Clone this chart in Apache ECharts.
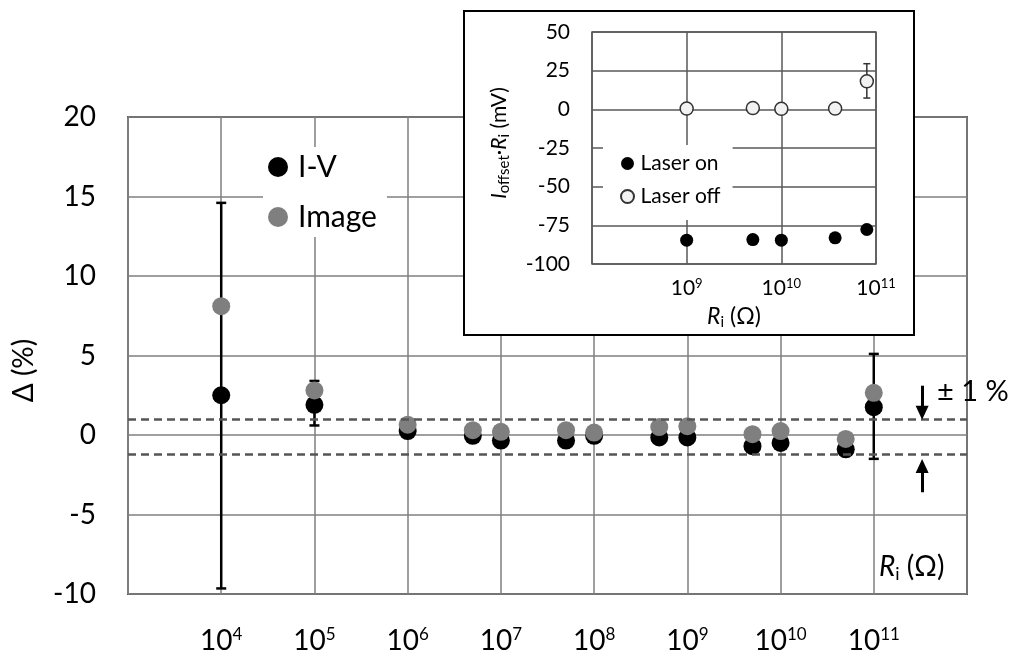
<!DOCTYPE html>
<html>
<head>
<meta charset="utf-8">
<script src="https://cdn.jsdelivr.net/npm/echarts@6/dist/echarts.min.js"></script>
<style>html,body{margin:0;padding:0;background:#fff}#c{width:1011px;height:655px}</style>
</head>
<body>
<div id="c"></div>
<script>
// ---- main chart data ----
const resistances = [1e4, 1e5, 1e6, 5e6, 1e7, 5e7, 1e8, 5e8, 1e9, 5e9, 1e10, 5e10, 1e11];
const ivDelta     = [2.5, 1.9, 0.25, -0.05, -0.35, -0.35, -0.05, -0.15, -0.15, -0.7, -0.5, -0.9, 1.75];
const imageDelta  = [8.1, 2.8, 0.65, 0.3, 0.2, 0.3, 0.15, 0.5, 0.55, 0.05, 0.25, -0.25, 2.65];
const ivErrR    = [1e4, 1e5, 1e11];
const ivErrLow  = [-9.65, 0.6, -1.5];
const ivErrHigh = [14.6, 3.4, 5.1];
const toleranceLines = [1, -1.2];
const yTicks = [-10, -5, 0, 5, 10, 15, 20];
const xExponents = [4, 5, 6, 7, 8, 9, 10, 11];

// ---- inset data ----
const insetR        = [1e9, 5e9, 1e10, 3.7e10, 8e10];
const laserOn       = [-84.6, -84.2, -84.6, -83.1, -77.7];
const laserOff      = [0.5, 0.8, 0.3, 0.5, 18.1];
const laserOffErrR    = [8e10];
const laserOffErrLow  = [7.3];
const laserOffErrHigh = [29.5];
const insetYTicks = [-100, -75, -50, -25, 0, 25, 50];
const insetExponents = [9, 10, 11];

const FONT = 'Lato, "Open Sans", sans-serif';
const zip = (a, b) => a.map((v, i) => [v, b[i]]);

function errorBarSeries(name, xi, yi, R, lo, hi, color, lw, cap, z) {
  return {
    name: name, type: 'custom', xAxisIndex: xi, yAxisIndex: yi, z: z, silent: true,
    data: R.map((r, i) => [r, lo[i], hi[i]]),
    renderItem: function (params, api) {
      const p1 = api.coord([api.value(0), api.value(1)]);
      const p2 = api.coord([api.value(0), api.value(2)]);
      const st = { stroke: color, lineWidth: lw };
      return { type: 'group', children: [
        { type: 'line', shape: { x1: p1[0], y1: p1[1], x2: p2[0], y2: p2[1] }, style: st },
        { type: 'line', shape: { x1: p1[0] - cap, y1: p1[1], x2: p1[0] + cap, y2: p1[1] }, style: st },
        { type: 'line', shape: { x1: p2[0] - cap, y1: p2[1], x2: p2[0] + cap, y2: p2[1] }, style: st }
      ]};
    }
  };
}

const chart = echarts.init(document.getElementById('c'), null, { renderer: 'canvas' });

const option = {
  backgroundColor: '#fff',
  animation: false,
  textStyle: { fontFamily: FONT },
  grid: [
    { left: 128, top: 117, right: 44, bottom: 57, show: true, borderColor: '#595959', borderWidth: 2, z: 0 },
    { left: 592, top: 32, width: 284, height: 232, show: true, borderColor: '#595959', borderWidth: 1.5, z: 6 }
  ],
  xAxis: [
    {
      type: 'log', logBase: 10, min: 1e3, max: 1e12, splitNumber: 9, gridIndex: 0,
      axisLine: { show: false }, axisTick: { show: false },
      splitLine: { show: true, lineStyle: { color: '#7f7f7f', width: 1.5 } },
      axisLabel: {
        margin: 31, color: '#000',
        formatter: function (v) {
          const e = Math.round(Math.log10(v));
          if (xExponents.indexOf(e) < 0) return '';
          return '{b|10}{s|' + e + '}';
        },
        rich: {
          b: { fontSize: 28, lineHeight: 32, fontFamily: FONT, color: '#000' },
          s: { fontSize: 17, lineHeight: 32, verticalAlign: 'top', fontFamily: FONT, color: '#000', padding: [1, 0, 0, 0] }
        }
      }
    },
    {
      type: 'log', logBase: 10, min: 1e8, max: 1e11, splitNumber: 3, gridIndex: 1, z: 6,
      axisLine: { show: false }, axisTick: { show: false },
      splitLine: { show: true, lineStyle: { color: '#595959', width: 1.5 } },
      name: '{i|R}{sub|i}{n| (\u03A9)}', nameLocation: 'middle', nameGap: 40,
      nameTextStyle: {
        rich: {
          i: { fontSize: 23, fontStyle: 'italic', lineHeight: 26, fontFamily: FONT, color: '#000' },
          sub: { fontSize: 15, lineHeight: 26, verticalAlign: 'bottom', fontFamily: FONT, color: '#000' },
          n: { fontSize: 23, lineHeight: 26, fontFamily: FONT, color: '#000' }
        }
      },
      axisLabel: {
        margin: 12, color: '#000',
        formatter: function (v) {
          const e = Math.round(Math.log10(v));
          if (insetExponents.indexOf(e) < 0) return '';
          return '{b|10}{s|' + e + '}';
        },
        rich: {
          b: { fontSize: 21, lineHeight: 24, fontFamily: FONT, color: '#000' },
          s: { fontSize: 13, lineHeight: 24, verticalAlign: 'top', fontFamily: FONT, color: '#000', padding: [1, 0, 0, 0] }
        }
      }
    }
  ],
  yAxis: [
    {
      type: 'value', min: yTicks[0], max: yTicks[yTicks.length - 1], interval: 5, gridIndex: 0,
      axisLine: { show: false }, axisTick: { show: false },
      splitLine: { show: true, lineStyle: { color: '#7f7f7f', width: 1.5 } },
      axisLabel: { fontSize: 28, margin: 32, color: '#000', fontFamily: FONT },
      name: '\u0394 (%)', nameLocation: 'middle', nameGap: 90, nameRotate: 90,
      nameTextStyle: { fontSize: 28, color: '#000', fontFamily: FONT, padding: [0, 30, 0, 0] }
    },
    {
      type: 'value', min: insetYTicks[0], max: insetYTicks[insetYTicks.length - 1], interval: 25, gridIndex: 1, z: 6,
      axisLine: { show: false }, axisTick: { show: false },
      splitLine: { show: true, lineStyle: { color: '#595959', width: 1.5 } },
      axisLabel: { fontSize: 21, margin: 22, color: '#000', fontFamily: FONT },
      name: '{i|I}{sub|offset}{n|\u00B7}{i|R}{sub|i}{n| (mV)}', nameLocation: 'middle', nameGap: 80, nameRotate: 90,
      nameTextStyle: {
        padding: [0, 0, 0, 10],
        rich: {
          i: { fontSize: 21, fontStyle: 'italic', lineHeight: 25, fontFamily: FONT, color: '#000' },
          sub: { fontSize: 15, lineHeight: 25, verticalAlign: 'bottom', fontFamily: FONT, color: '#000' },
          n: { fontSize: 21, lineHeight: 25, fontFamily: FONT, color: '#000' }
        }
      }
    }
  ],
  legend: [
    {
      data: ['I-V', 'Image'], orient: 'vertical', left: 263, top: 147, padding: [5, 10, 5, 5],
      backgroundColor: '#fff', itemWidth: 30, itemHeight: 20, itemGap: 20, icon: 'circle', z: 4,
      textStyle: { fontSize: 30, color: '#000', fontFamily: FONT }
    },
    {
      data: ['Laser on', 'Laser off'], orient: 'vertical', left: 603, top: 145, padding: [8, 12, 13, 17],
      backgroundColor: '#fff', itemWidth: 16, itemHeight: 13, itemGap: 12, z: 9,
      textStyle: { fontSize: 21, color: '#000', fontFamily: FONT }
    }
  ],
  graphic: [
    { type: 'rect', z: 5, silent: true, shape: { x: 464, y: 11, width: 450, height: 324 },
      style: { fill: '#fff', stroke: '#000', lineWidth: 2 } },
    { type: 'text', z: 3, silent: true, left: 937, top: 377,
      style: { text: '\u00B1 1 %', font: '29px ' + FONT, fill: '#000' } },
    { type: 'text', z: 3, silent: true, left: 879, top: 553,
      style: {
        text: '{i|R}{sub|i}{n| (\u03A9)}',
        rich: {
          i: { fontSize: 28, fontStyle: 'italic', lineHeight: 32, fontFamily: FONT, fill: '#000' },
          sub: { fontSize: 18, lineHeight: 32, verticalAlign: 'bottom', fontFamily: FONT, fill: '#000' },
          n: { fontSize: 28, lineHeight: 32, fontFamily: FONT, fill: '#000' }
        }
      } }
  ],
  series: [
    errorBarSeries('ivErr', 0, 0, ivErrR, ivErrLow, ivErrHigh, '#000', 2.5, 5, 2),
    {
      name: 'I-V', type: 'scatter', xAxisIndex: 0, yAxisIndex: 0, z: 3,
      symbolSize: 18, itemStyle: { color: '#000', opacity: 1 },
      data: zip(resistances, ivDelta),
      markLine: {
        silent: true, symbol: ['none', 'none'], animation: false,
        label: { show: false },
        lineStyle: { type: [8, 5], color: '#555', width: 2.5 },
        data: toleranceLines.map(v => ({ yAxis: v }))
      }
    },
    {
      name: 'Image', type: 'scatter', xAxisIndex: 0, yAxisIndex: 0, z: 4,
      symbolSize: 18, itemStyle: { color: '#7f7f7f', opacity: 1 },
      data: zip(resistances, imageDelta),
      markLine: {
        silent: true, symbol: ['none', 'triangle'], symbolSize: [13, 14], animation: false,
        label: { show: false },
        lineStyle: { type: 'solid', color: '#000', width: 3 },
        itemStyle: { color: '#000' },
        data: [
          [{ coord: [3.3e11, 3.1] }, { coord: [3.3e11, 1.4] }],
          [{ coord: [3.3e11, -3.6] }, { coord: [3.3e11, -1.95] }]
        ]
      }
    },
    errorBarSeries('offErr', 1, 1, laserOffErrR, laserOffErrLow, laserOffErrHigh, '#333', 1.5, 3.5, 7),
    {
      name: 'Laser on', type: 'scatter', xAxisIndex: 1, yAxisIndex: 1, z: 8,
      symbolSize: 13, itemStyle: { color: '#000', opacity: 1 },
      data: zip(insetR, laserOn)
    },
    {
      name: 'Laser off', type: 'scatter', xAxisIndex: 1, yAxisIndex: 1, z: 8,
      symbolSize: 13, itemStyle: { color: '#f2f2f2', borderColor: '#333', borderWidth: 1.5, opacity: 1 },
      data: zip(insetR, laserOff)
    }
  ]
};
chart.setOption(option);
</script>
</body>
</html>
